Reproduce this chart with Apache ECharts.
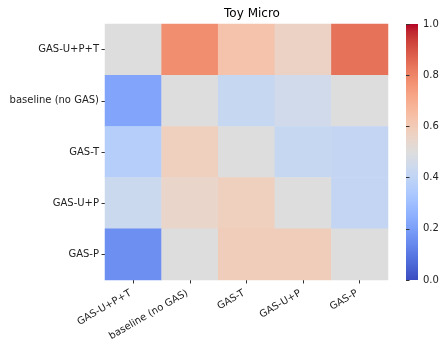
<!DOCTYPE html>
<html><head><meta charset="utf-8">
<script src="https://cdn.jsdelivr.net/npm/echarts@6/dist/echarts.min.js"></script>
<style>html,body{margin:0;padding:0;background:#fff}#c{width:445px;height:342px}</style>
</head><body><div id="c"></div>
<script>
const categories = ['GAS-U+P+T', 'baseline (no GAS)', 'GAS-T', 'GAS-U+P', 'GAS-P'];
const rowUPT      = [0.50, 0.78, 0.63, 0.565, 0.84];
const rowBaseline = [0.22, 0.50, 0.42, 0.45, 0.50];
const rowT        = [0.37, 0.58, 0.50, 0.42, 0.41];
const rowUP       = [0.435, 0.55, 0.58, 0.50, 0.41];
const rowP        = [0.16, 0.50, 0.59, 0.59, 0.50];
const rows = [rowUPT, rowBaseline, rowT, rowUP, rowP];
const colorbarTicks = [0, 0.2, 0.4, 0.6, 0.8, 1.0];
const coolwarm = [[59,76,192],[68,90,204],[77,104,215],[87,117,225],[98,130,234],[108,142,241],[119,154,247],[130,165,251],[141,176,254],[152,185,255],[163,194,255],[174,201,253],[184,208,249],[194,213,244],[204,217,238],[213,219,230],[221,221,221],[229,216,209],[236,211,197],[241,204,185],[245,196,173],[247,187,160],[247,177,148],[247,166,135],[244,154,123],[241,141,111],[236,127,99],[229,112,88],[222,96,77],[213,80,66],[203,62,56],[192,40,47],[180,4,38]];
const cmap = coolwarm.map(c => 'rgb(' + c.join(',') + ')');

const data = [];
rows.forEach((r, i) => r.forEach((v, j) => data.push([j, i, v])));

const chart = echarts.init(document.getElementById('c'));
const font = 'DejaVu Sans';
chart.setOption({
  animation: false,
  title: { text: 'Toy Micro', left: 247, top: 3, textAlign: 'center',
    textStyle: { fontFamily: font, fontSize: 12, fontWeight: 'normal', color: '#000' } },
  grid: [
    { left: 105, right: 57, top: 24, bottom: 62, outerBoundsMode: 'none', containLabel: false },
    { left: 406, width: 12, top: 24, height: 256, show: true, borderWidth: 0,
      outerBoundsMode: 'none', containLabel: false,
      backgroundColor: new echarts.graphic.LinearGradient(0, 1, 0, 0,
        cmap.map((c, i) => ({ offset: i / (cmap.length - 1), color: c }))) }
  ],
  xAxis: [
    { type: 'category', data: categories, gridIndex: 0,
      axisLine: { show: false }, splitLine: { show: false },
      axisTick: { show: true, alignWithLabel: true, length: 3.5, lineStyle: { color: '#333' } },
      axisLabel: { rotate: 30, fontFamily: font, fontSize: 10, color: '#222', margin: 11, interval: 0,
        hideOverlap: false, padding: [0, 3, 0, 0] } },
    { type: 'value', gridIndex: 1, show: false, min: 0, max: 1 }
  ],
  yAxis: [
    { type: 'category', data: categories, inverse: true, gridIndex: 0,
      axisLine: { show: false }, splitLine: { show: false },
      axisTick: { show: true, alignWithLabel: true, length: 3.5, lineStyle: { color: '#333' } },
      axisLabel: { fontFamily: font, fontSize: 10, color: '#222', margin: 6, interval: 0 } },
    { type: 'value', gridIndex: 1, position: 'right', min: 0, max: 1, interval: 0.2,
      axisLine: { show: false }, splitLine: { show: false },
      axisTick: { show: true, length: 3.5, lineStyle: { color: '#333' } },
      axisLabel: { fontFamily: font, fontSize: 10, color: '#222', margin: 5,
        formatter: v => v.toFixed(1) } }
  ],
  visualMap: { show: false, min: 0, max: 1, seriesIndex: 0, inRange: { color: cmap } },
  series: [
    { type: 'heatmap', xAxisIndex: 0, yAxisIndex: 0, data: data, itemStyle: { borderWidth: 0 } }
  ]
});
</script></body></html>
